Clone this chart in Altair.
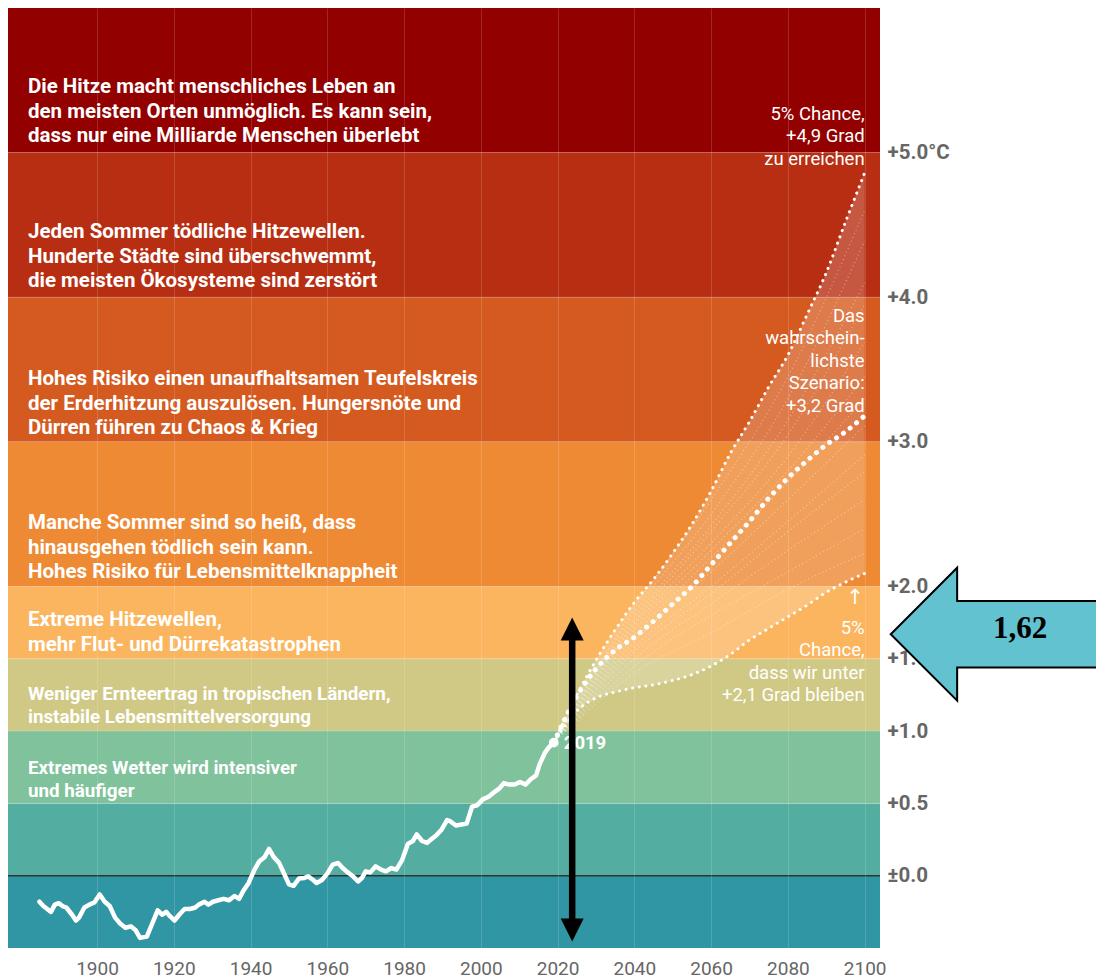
import altair as alt
import pandas as pd

FONT = "Roboto"

# ---------------- data ----------------
hist_years = [1885, 1886, 1888, 1889, 1890, 1891, 1892, 1893.5, 1894.5, 1895.3,
              1896.7, 1898, 1899.3, 1900.7, 1902, 1903.3, 1904.7, 1906, 1907.4, 1908.8,
              1910, 1911.2, 1913, 1914.4, 1915.8, 1917, 1918, 1919, 1920.2, 1921.4,
              1922.8, 1924.2, 1925.6, 1926.5, 1928, 1929, 1930.2, 1931.6, 1933, 1934.4,
              1935.8, 1937, 1938, 1939.5, 1941, 1942.3, 1943.7, 1944.8, 1946, 1947.4,
              1948.8, 1950, 1951.2, 1952.6, 1954, 1955, 1956.3, 1957.2, 1958.6, 1960,
              1961.4, 1962.8, 1964, 1965, 1966.5, 1968, 1969, 1970, 1971.2, 1972.6,
              1974, 1975.3, 1976.7, 1978, 1979.5, 1981, 1982.3, 1983.3, 1984.7, 1986,
              1987, 1988.4, 1989.8, 1991.2, 1992, 1993.5, 1995, 1996.3, 1997.7, 1999,
              2000.5, 2002, 2003.3, 2004.7, 2006, 2007.4, 2008.8, 2010.2, 2011.6, 2013,
              2014.4, 2015.3, 2016.7, 2017.7, 2019]
hist_values = [-0.18, -0.21, -0.25, -0.20, -0.19, -0.21, -0.22, -0.27, -0.31, -0.29,
               -0.22, -0.20, -0.185, -0.13, -0.18, -0.21, -0.29, -0.33, -0.36, -0.35,
               -0.375, -0.43, -0.42, -0.33, -0.24, -0.27, -0.25, -0.28, -0.31, -0.27,
               -0.23, -0.23, -0.22, -0.20, -0.18, -0.20, -0.18, -0.17, -0.16, -0.17,
               -0.14, -0.16, -0.11, -0.05, 0.04, 0.10, 0.13, 0.185, 0.13, 0.09,
               0.01, -0.06, -0.07, -0.02, -0.016, -0.005, -0.03, -0.05, -0.03, 0.014,
               0.076, 0.088, 0.053, 0.03, 0.0, -0.04, -0.016, 0.03, 0.023, 0.065,
               0.042, 0.03, 0.053, 0.042, 0.11, 0.22, 0.24, 0.285, 0.24, 0.227,
               0.25, 0.28, 0.32, 0.384, 0.377, 0.347, 0.354, 0.36, 0.477, 0.486,
               0.528, 0.546, 0.574, 0.60, 0.64, 0.63, 0.63, 0.648, 0.63, 0.667,
               0.694, 0.77, 0.85, 0.887, 0.92]

proj_years = [2019, 2025, 2030, 2035, 2040, 2045, 2050, 2055, 2060, 2065, 2070,
              2075, 2080, 2085, 2090, 2095, 2100]
proj_upper = [0.92, 1.25, 1.49, 1.70, 1.89, 2.05, 2.23, 2.43, 2.66, 2.92, 3.14,
              3.38, 3.60, 3.88, 4.17, 4.52, 4.86]
proj_middle = [0.92, 1.24, 1.43, 1.56, 1.65, 1.76, 1.88, 2.00, 2.15, 2.30, 2.45,
               2.61, 2.75, 2.87, 2.98, 3.07, 3.18]
proj_lower = [0.92, 1.14, 1.23, 1.27, 1.30, 1.32, 1.35, 1.39, 1.45, 1.53, 1.63,
              1.71, 1.79, 1.87, 1.96, 2.03, 2.09]

faint_years = [2019, 2040, 2060, 2080, 2100]
faint_lines = [
    [0.92, 1.85, 2.60, 3.45, 4.60],
    [0.92, 1.82, 2.50, 3.30, 4.39],
    [0.92, 1.78, 2.42, 3.15, 4.10],
    [0.92, 1.75, 2.38, 3.05, 3.95],
    [0.92, 1.73, 2.30, 2.90, 3.69],
    [0.92, 1.70, 2.25, 2.80, 3.45],
    [0.92, 1.66, 2.20, 2.72, 3.30],
    [0.92, 1.62, 2.10, 2.60, 3.11],
    [0.92, 1.58, 2.00, 2.45, 2.91],
    [0.92, 1.55, 1.95, 2.38, 2.79],
    [0.92, 1.50, 1.88, 2.25, 2.60],
    [0.92, 1.45, 1.80, 2.10, 2.40],
    [0.92, 1.40, 1.68, 1.98, 2.23],
]

band_lower = [-0.5, 0.0, 0.5, 1.0, 1.5, 2.0, 3.0, 4.0, 5.0]
band_upper = [0.0, 0.5, 1.0, 1.5, 2.0, 3.0, 4.0, 5.0, 6.0]
band_colors = ["#3196A3", "#53AEA1", "#80C29B", "#D0C986", "#FBB55E",
               "#EE8934", "#D55A1F", "#B82E12", "#920000"]

band_texts = [
    "Die Hitze macht menschliches Leben an\nden meisten Orten unmöglich. Es kann sein,\ndass nur eine Milliarde Menschen überlebt",
    "Jeden Sommer tödliche Hitzewellen.\nHunderte Städte sind überschwemmt,\ndie meisten Ökosysteme sind zerstört",
    "Hohes Risiko einen unaufhaltsamen Teufelskreis\nder Erderhitzung auszulösen. Hungersnöte und\nDürren führen zu Chaos & Krieg",
    "Manche Sommer sind so heiß, dass\nhinausgehen tödlich sein kann.\nHohes Risiko für Lebensmittelknappheit",
    "Extreme Hitzewellen,\nmehr Flut- und Dürrekatastrophen",
]
band_texts_small = [
    "Weniger Ernteertrag in tropischen Ländern,\ninstabile Lebensmittelversorgung",
    "Extremes Wetter wird intensiver\nund häufiger",
]
# annotation anchor positions (top of first line, in °C)
band_text_top = [5.522, 4.520, 3.503, 2.507, 1.837]
band_text_small_top = [1.319, 0.807]
text_x = 1882

x_tick_values = [1900, 1920, 1940, 1960, 1980, 2000, 2020, 2040, 2060, 2080, 2100]
y_tick_values = [0, 0.5, 1.0, 1.5, 2.0, 3.0, 4.0, 5.0]

# ---------------- tables ----------------
bands = pd.DataFrame({"lo": band_lower, "hi": band_upper, "color": band_colors})
bounds = pd.DataFrame({"y": [v for v in band_upper[:-1] if v != 0]})
zero = pd.DataFrame({"y": [0.0]})
hist = pd.DataFrame({"year": hist_years, "temp": hist_values})
proj = pd.DataFrame({"year": proj_years, "upper": proj_upper,
                     "middle": proj_middle, "lower": proj_lower})
faint = pd.DataFrame([{"year": y, "temp": v, "series": i}
                      for i, line in enumerate(faint_lines)
                      for y, v in zip(faint_years, line)])
btext = pd.DataFrame({"x": [text_x] * len(band_texts), "y": band_text_top, "t": band_texts})
btext_s = pd.DataFrame({"x": [text_x] * len(band_texts_small), "y": band_text_small_top,
                        "t": band_texts_small})

xs = alt.Scale(domain=[1876.8, 2104.0], nice=False, zero=False)
ys = alt.Scale(domain=[-0.5, 6.0], nice=False, zero=False)

x_axis = alt.Axis(values=x_tick_values, format="d", title=None, orient="bottom",
                  grid=True, gridColor="white", gridOpacity=0.15, gridWidth=1,
                  ticks=False, domain=False, labelFont=FONT, labelFontSize=19,
                  labelColor="#666666", labelPadding=11, zindex=1)
y_axis = alt.Axis(values=y_tick_values, title=None, orient="right", grid=False,
                  ticks=False, domain=False, labelFont=FONT, labelFontSize=20.5,
                  labelFontWeight="bold", labelColor="#666666", labelPadding=7,
                  labelAlign="left", labelBaseline="middle",
                  labelExpr="datum.value == 5 ? '+5.0°C' : datum.value == 0 ? '±0.0' : '+' + format(datum.value, '.1f')")


def X(f):
    return alt.X(f, type="quantitative", scale=xs, axis=x_axis)


def Y(f):
    return alt.Y(f, type="quantitative", scale=ys, axis=y_axis)


band_layer = alt.Chart(bands).mark_rect().encode(
    y=Y("lo"), y2="hi", color=alt.Color("color:N", scale=None))
bound_layer = alt.Chart(bounds).mark_rule(color="white", opacity=0.18, strokeWidth=1).encode(y=Y("y"))
zero_layer = alt.Chart(zero).mark_rule(color="#333333", strokeWidth=1.5).encode(y=Y("y"))

fan = alt.Chart(proj).mark_area(color="white", opacity=0.2, interpolate="monotone").encode(
    x=X("year"), y=Y("lower"), y2="upper")
faint_layer = alt.Chart(faint).mark_line(
    color="white", opacity=0.4, strokeWidth=1.2, strokeDash=[1, 3], interpolate="monotone"
).encode(x=X("year"), y=Y("temp"), detail="series:N")
upper_layer = alt.Chart(proj).mark_line(
    color="white", strokeWidth=3, strokeDash=[0.1, 6.6], strokeCap="round", interpolate="monotone"
).encode(x=X("year"), y=Y("upper"))
lower_layer = alt.Chart(proj).mark_line(
    color="white", strokeWidth=3, strokeDash=[0.1, 6.6], strokeCap="round", interpolate="monotone"
).encode(x=X("year"), y=Y("lower"))
middle_layer = alt.Chart(proj).mark_line(
    color="white", strokeWidth=5, strokeDash=[0.1, 8.3], strokeCap="round", interpolate="monotone"
).encode(x=X("year"), y=Y("middle"))

hist_layer = alt.Chart(hist).mark_line(
    color="white", strokeWidth=4.5, strokeJoin="round", strokeCap="round"
).encode(x=X("year"), y=Y("temp"))

last = pd.DataFrame({"year": [hist_years[-1]], "temp": [hist_values[-1]], "t": ["2019"]})
dot_layer = alt.Chart(last).mark_point(filled=True, color="white", size=95, opacity=1).encode(
    x=X("year"), y=Y("temp"))
dot_text = alt.Chart(last).mark_text(
    color="white", font=FONT, fontSize=18.5, fontWeight="bold", align="left",
    baseline="middle", dx=10).encode(x=X("year"), y=Y("temp"), text="t")

band_text_layer = alt.Chart(btext).mark_text(
    color="white", font=FONT, fontSize=20.5, fontWeight="bold", align="left",
    baseline="top", lineBreak="\n", lineHeight=24.5).encode(x=X("x"), y=Y("y"), text="t")
band_text_small_layer = alt.Chart(btext_s).mark_text(
    color="white", font=FONT, fontSize=18.8, fontWeight="bold", align="left",
    baseline="top", lineBreak="\n", lineHeight=23.5).encode(x=X("x"), y=Y("y"), text="t")

notes = pd.DataFrame({
    "x": [2100, 2100, 2100],
    "y": [5.329, 3.933, 1.777],
    "t": ["5% Chance,\n+4,9 Grad\nzu erreichen",
          "Das\nwahrschein-\nlichste\nSzenario:\n+3,2 Grad",
          "5%\nChance,\ndass wir unter\n+2,1 Grad bleiben"],
})
notes_layer = alt.Chart(notes).mark_text(
    color="white", font=FONT, fontSize=18.5, align="right", baseline="top",
    lineBreak="\n", lineHeight=22.4).encode(x=X("x"), y=Y("y"), text="t")
up_arrow = pd.DataFrame({"x": [2099.8], "y": [1.92], "t": ["↑"]})
up_layer = alt.Chart(up_arrow).mark_text(
    color="white", font="DejaVu Sans", fontSize=21, fontWeight="normal", align="right",
    baseline="middle"
).encode(x=X("x"), y=Y("y"), text="t")

# black double arrow
arrow_x = 2023.8
shaft = pd.DataFrame({"x": [arrow_x], "y": [1.66], "y2": [-0.33]})
shaft_layer = alt.Chart(shaft).mark_rule(color="black", strokeWidth=6.5).encode(
    x=X("x"), y=Y("y"), y2="y2")
head_top = pd.DataFrame({"x": [arrow_x], "y": [1.785]})
head_bot = pd.DataFrame({"x": [arrow_x], "y": [-0.455]})
head_top_layer = alt.Chart(head_top).mark_point(
    shape="M0,0L1,2L-1,2Z", size=529, filled=True, color="black", opacity=1
).encode(x=X("x"), y=Y("y"))
head_bot_layer = alt.Chart(head_bot).mark_point(
    shape="M0,0L1,-2L-1,-2Z", size=529, filled=True, color="black", opacity=1
).encode(x=X("x"), y=Y("y"))

# cyan callout arrow
callout = pd.DataFrame({"x": [2106.8], "y": [1.67]})
callout_layer = alt.Chart(callout).mark_point(
    shape="M0,0L2,-2L2,-1L6.4,-1L6.4,1L2,1L2,2Z", size=4409, filled=True,
    fill="#62C2CF", stroke="black", strokeWidth=2, opacity=1
).encode(x=X("x"), y=Y("y"))
callout_text = pd.DataFrame({"x": [2140.5], "y": [1.706], "t": ["1,62"]})
callout_text_layer = alt.Chart(callout_text).mark_text(
    font="Liberation Serif", fontSize=31, fontWeight="bold", color="black",
    align="center", baseline="middle").encode(x=X("x"), y=Y("y"), text="t")

chart = alt.layer(
    band_layer, bound_layer, zero_layer, fan, faint_layer, upper_layer, lower_layer,
    middle_layer, hist_layer, dot_layer, dot_text, band_text_layer, band_text_small_layer,
    notes_layer, up_layer, shaft_layer, head_top_layer, head_bot_layer,
    callout_layer, callout_text_layer
).properties(
    width=872, height=940,
    autosize=alt.AutoSizeParams(type="none"),
    padding={"left": 0, "top": 0, "right": 216, "bottom": 30},
    background="white",
).configure_view(strokeWidth=0)

chart.save("out.html", embed_options={"renderer": "svg", "actions": False})
